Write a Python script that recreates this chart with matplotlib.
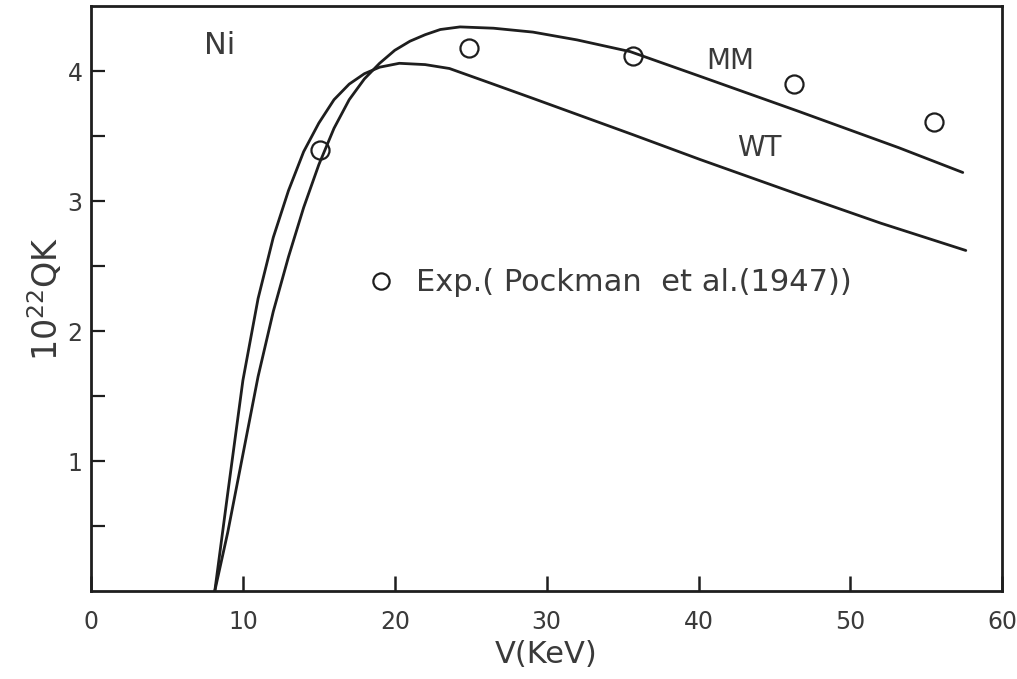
import matplotlib
matplotlib.use("Agg")
import matplotlib.pyplot as plt
from matplotlib.ticker import MultipleLocator

plt.rcParams["font.family"] = ["DejaVu Sans"]

# MM curve (V in keV, 10^22 Q_K)
mm_v = [8.15, 9.0, 10.0, 11.0, 12.0, 13.0, 14.0, 15.0, 16.0, 17.0, 18.0, 19.0,
        20.0, 21.0, 22.0, 23.0, 24.3, 26.5, 29.1, 32.0, 35.5, 40.1, 46.6, 53.2, 57.4]
mm_q = [0.0, 0.45, 1.05, 1.65, 2.15, 2.57, 2.95, 3.28, 3.56, 3.78, 3.94, 4.06,
        4.16, 4.23, 4.28, 4.32, 4.34, 4.33, 4.30, 4.24, 4.15, 3.96, 3.69, 3.41, 3.22]

# WT curve
wt_v = [8.15, 9.0, 10.0, 11.0, 12.0, 13.0, 14.0, 15.0, 16.0, 17.0, 18.0, 19.0,
        20.3, 22.0, 23.6, 26.0, 29.1, 35.7, 40.1, 46.6, 52.0, 57.6]
wt_q = [0.0, 0.75, 1.62, 2.25, 2.72, 3.08, 3.38, 3.60, 3.78, 3.90, 3.98, 4.03,
        4.06, 4.05, 4.02, 3.92, 3.79, 3.51, 3.32, 3.05, 2.83, 2.62]

# Pockman et al. (1947) experimental points
exp_v = [15.1, 24.9, 35.7, 46.3, 55.5]
exp_q = [3.39, 4.18, 4.12, 3.90, 3.61]

ink = "#1e1e1e"
txt = "#3a3a3a"

fig = plt.figure(figsize=(10.17, 6.79), dpi=100)
ax = fig.add_axes([0.0895, 0.1296, 0.896, 0.8614])

ax.plot(mm_v, mm_q, color=ink, lw=2.0, solid_capstyle="round", solid_joinstyle="round")
ax.plot(wt_v, wt_q, color=ink, lw=2.0, solid_capstyle="round", solid_joinstyle="round")
pts, = ax.plot(exp_v, exp_q, ls="none", marker="o", ms=13, mfc="none",
               mec=ink, mew=1.6, label="Exp.( Pockman  et al.(1947))")

ax.set_xlim(0, 60)
ax.set_ylim(0, 4.5)
ax.xaxis.set_major_locator(MultipleLocator(10))
ax.set_yticks([1, 2, 3, 4])
ax.set_yticks([0.5, 1.5, 2.5, 3.5], minor=True)

ax.tick_params(axis="x", direction="in", length=11, width=1.8, color=ink,
               labelsize=17, labelcolor=txt, pad=14, top=False)
ax.tick_params(axis="y", which="both", direction="in", length=10, width=1.6,
               color=ink, labelsize=17, labelcolor=txt, pad=6, right=False)
for s in ax.spines.values():
    s.set_linewidth(2.0)
    s.set_color(ink)

ax.set_xlabel("V(KeV)", fontsize=22, color=txt, labelpad=4)
ax.set_ylabel(r"$\mathregular{10^{22}QK}$", fontsize=24, color=txt, labelpad=2)

ax.text(8.5, 4.2, "Ni", fontsize=22, color=txt, ha="center", va="center")
ax.text(42.1, 4.08, "MM", fontsize=20, color=txt, ha="center", va="center")
ax.text(44.0, 3.41, "WT", fontsize=20, color=txt, ha="center", va="center")

leg = ax.legend(handles=[pts], loc="center left", bbox_to_anchor=(0.278, 0.527),
                frameon=False, fontsize=22, handlelength=0.6, handletextpad=0.85,
                markerscale=0.9, labelcolor=txt)

fig.savefig("out.png", dpi=100)
